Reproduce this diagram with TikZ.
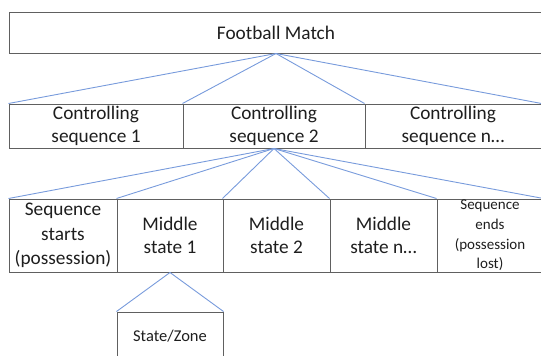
\documentclass[tikz,border=0pt]{standalone}
\usepackage{fontspec}
\setmainfont{Carlito}
\definecolor{boxline}{RGB}{96,96,96}
\definecolor{conn}{RGB}{120,155,220}
\definecolor{txt}{RGB}{30,30,30}
\begin{document}
\begin{tikzpicture}[x=1pt,y=-1pt,
  box/.style={draw=boxline,line width=1pt,inner sep=0pt,align=center,text=txt,
    font=\fontsize{19.3}{23.5}\selectfont},
  smallbox/.style={box,font=\fontsize{15}{19.6}\selectfont},
  conn/.style={draw=conn,line width=0.9pt}]
\useasboundingbox (0,0) rectangle (541,356);
\clip (0,0) rectangle (541,356);
% level 1
\node[box,minimum width=534pt,minimum height=41pt] (top) at (276,32.5) {Football Match};
% level 2
\node[box,minimum width=174pt,minimum height=44pt] (c1) at (96,126) {Controlling\\sequence 1};
\node[box,minimum width=182pt,minimum height=44pt] (c2) at (274,126) {Controlling\\sequence 2};
\node[box,minimum width=176pt,minimum height=44pt] (cn) at (453,126) {Controlling\\sequence n\ldots};
% level 3
\node[box,minimum width=108pt,minimum height=73pt,font=\fontsize{19.3}{24.5}\selectfont] (s0) at (63,235.5) {Sequence\\starts\\(possession)};
\node[box,minimum width=106pt,minimum height=73pt] (m1) at (170,235.5) {Middle\\state 1};
\node[box,minimum width=107pt,minimum height=73pt] (m2) at (276.5,235.5) {Middle\\state 2};
\node[box,minimum width=107pt,minimum height=73pt] (mn) at (383.5,235.5) {Middle\\state n\ldots};
\node[smallbox,minimum width=106pt,minimum height=73pt] (se) at (490,235.5) {Sequence\\ends\\(possession\\lost)};
% level 4
\node[box,minimum width=106pt,minimum height=50pt] (sz) at (170,337) {};
\node[text=txt,font=\fontsize{16.5}{20}\selectfont] (szt) at (170,336) {State/Zone};
% connectors
\draw[conn] (top.south) -- (c1.north west);
\draw[conn] (top.south) -- (c2.north west);
\draw[conn] (top.south) -- (cn.north west);
\draw[conn] (top.south) -- (cn.north east);
\draw[conn] (c2.south) -- (s0.north west);
\draw[conn] (c2.south) -- (m1.north west);
\draw[conn] (c2.south) -- (m2.north west);
\draw[conn] (c2.south) -- (mn.north west);
\draw[conn] (c2.south) -- (se.north west);
\draw[conn] (c2.south) -- (se.north east);
\draw[conn] (m1.south) -- (sz.north west);
\draw[conn] (m1.south) -- (sz.north east);
\end{tikzpicture}
\end{document}
